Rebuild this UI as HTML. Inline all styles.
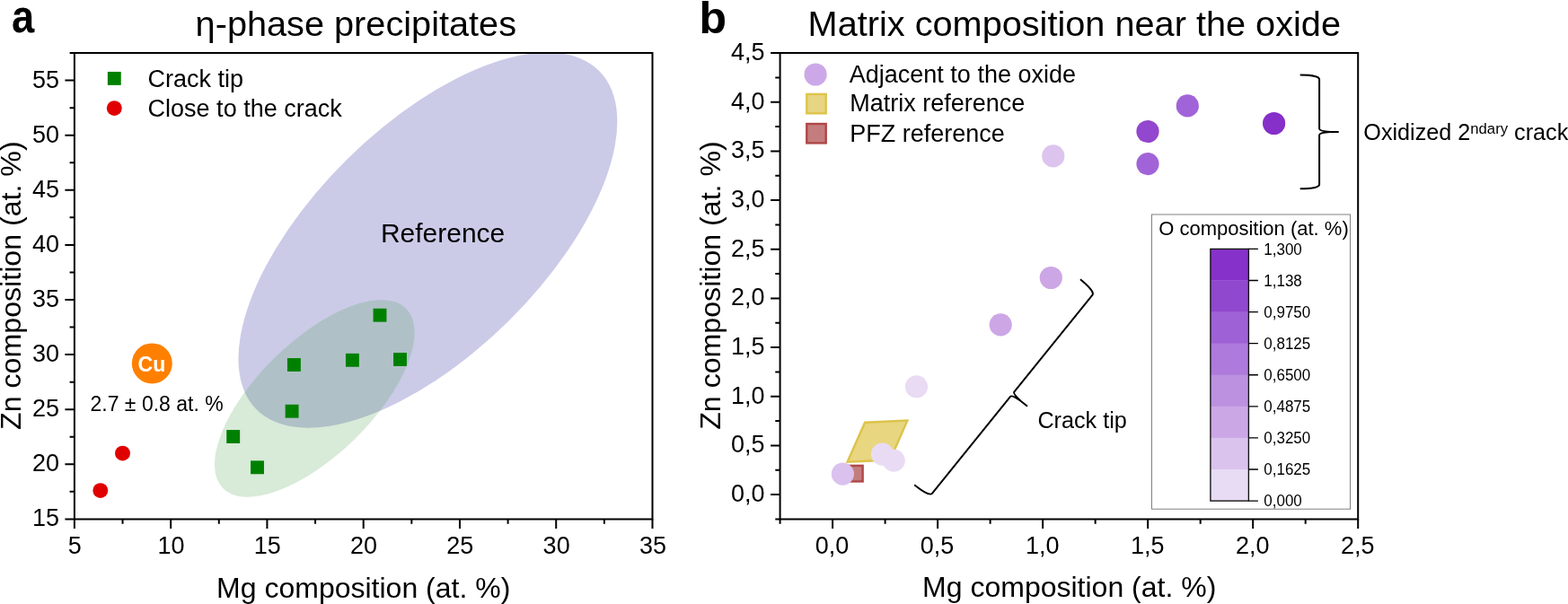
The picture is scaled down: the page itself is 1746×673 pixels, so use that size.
<!DOCTYPE html>
<html><head><meta charset="utf-8"><title>Figure</title>
<style>
html,body{margin:0;padding:0;background:#fff;}
body{width:1746px;height:673px;overflow:hidden;}
svg{display:block;}
text{font-family:"Liberation Sans", Arial, Helvetica, sans-serif;fill:#000;}
</style></head><body>
<svg width="1746" height="673" viewBox="0 0 1746 673">
<rect x="0" y="0" width="1746" height="673" fill="#fff"/>
<ellipse cx="476.4" cy="267.6" rx="268.3" ry="127.4" transform="rotate(-44.6 476.4 267.6)" fill="#cbcbe8"/>
<ellipse cx="350.35" cy="443.95" rx="142.9" ry="63.6" transform="rotate(-44.4 350.35 443.95)" fill="#4d9f4d" fill-opacity="0.22"/>
<rect x="252.25" y="479.05" width="14.9" height="14.9" fill="#008000"/>
<rect x="279.05" y="513.35" width="14.9" height="14.9" fill="#008000"/>
<rect x="317.65" y="450.75" width="14.9" height="14.9" fill="#008000"/>
<rect x="319.95" y="399.05" width="14.9" height="14.9" fill="#008000"/>
<rect x="384.95" y="393.85" width="14.9" height="14.9" fill="#008000"/>
<rect x="415.55" y="343.75" width="14.9" height="14.9" fill="#008000"/>
<rect x="438.05" y="393.05" width="14.9" height="14.9" fill="#008000"/>
<circle cx="136.5" cy="505.1" r="8.45" fill="#e00000"/>
<circle cx="111.8" cy="546.6" r="8.45" fill="#e00000"/>
<circle cx="169.3" cy="404.9" r="22.5" fill="#ff8000"/>
<text x="168.9" y="413.5" font-size="23" font-weight="bold" text-anchor="middle" style="fill:#fff">Cu</text>
<text x="100.5" y="458" font-size="23">2.7 ± 0.8 at. %</text>
<text x="423.9" y="270.2" font-size="30">Reference</text>
<rect x="119.85" y="79.95" width="14.9" height="14.9" fill="#008000"/>
<circle cx="127.3" cy="120.6" r="8.45" fill="#e00000"/>
<text x="164.6" y="96.5" font-size="27">Crack tip</text>
<text x="164.6" y="130" font-size="27">Close to the crack</text>
<path d="M82.9,59.1 H726.5 V578.4 H82.9 Z" fill="none" stroke="#000" stroke-width="2.0"/>
<path d="M82.90,578.4 v10.5 M190.17,578.4 v10.5 M297.43,578.4 v10.5 M404.70,578.4 v10.5 M511.97,578.4 v10.5 M619.23,578.4 v10.5 M726.50,578.4 v10.5 M136.53,578.4 v5.3 M243.80,578.4 v5.3 M351.07,578.4 v5.3 M458.33,578.4 v5.3 M565.60,578.4 v5.3 M672.87,578.4 v5.3 M82.9,578.40 h-10.5 M82.9,517.30 h-10.5 M82.9,456.20 h-10.5 M82.9,395.10 h-10.5 M82.9,334.00 h-10.5 M82.9,272.90 h-10.5 M82.9,211.80 h-10.5 M82.9,150.70 h-10.5 M82.9,89.60 h-10.5 M82.9,547.85 h-5.3 M82.9,486.75 h-5.3 M82.9,425.65 h-5.3 M82.9,364.55 h-5.3 M82.9,303.45 h-5.3 M82.9,242.35 h-5.3 M82.9,181.25 h-5.3 M82.9,120.15 h-5.3 M82.9,59.05 h-5.3" stroke="#000" stroke-width="2.0" fill="none"/>
<text transform="translate(83.30 617) scale(1 1.04)" font-size="27" text-anchor="middle">5</text>
<text transform="translate(190.57 617) scale(1 1.04)" font-size="27" text-anchor="middle">10</text>
<text transform="translate(297.83 617) scale(1 1.04)" font-size="27" text-anchor="middle">15</text>
<text transform="translate(405.10 617) scale(1 1.04)" font-size="27" text-anchor="middle">20</text>
<text transform="translate(512.37 617) scale(1 1.04)" font-size="27" text-anchor="middle">25</text>
<text transform="translate(619.63 617) scale(1 1.04)" font-size="27" text-anchor="middle">30</text>
<text transform="translate(726.90 617) scale(1 1.04)" font-size="27" text-anchor="middle">35</text>
<text transform="translate(65.9 586.40) scale(1 1.04)" font-size="27" text-anchor="end">15</text>
<text transform="translate(65.9 525.30) scale(1 1.04)" font-size="27" text-anchor="end">20</text>
<text transform="translate(65.9 464.20) scale(1 1.04)" font-size="27" text-anchor="end">25</text>
<text transform="translate(65.9 403.10) scale(1 1.04)" font-size="27" text-anchor="end">30</text>
<text transform="translate(65.9 342.00) scale(1 1.04)" font-size="27" text-anchor="end">35</text>
<text transform="translate(65.9 280.90) scale(1 1.04)" font-size="27" text-anchor="end">40</text>
<text transform="translate(65.9 219.80) scale(1 1.04)" font-size="27" text-anchor="end">45</text>
<text transform="translate(65.9 158.70) scale(1 1.04)" font-size="27" text-anchor="end">50</text>
<text transform="translate(65.9 97.60) scale(1 1.04)" font-size="27" text-anchor="end">55</text>
<text x="241.1" y="665.7" font-size="32">Mg composition (at. %)</text>
<text transform="translate(23.3 478.9) rotate(-90)" font-size="32.15">Zn composition (at. %)</text>
<text x="217.6" y="40.1" font-size="39.7">η-phase precipitates</text>
<text transform="translate(13.0 36.3) scale(0.876 1)" font-size="51.8" font-weight="bold">a</text>
<polygon points="963.1,470.7 1010.4,468.6 991.1,512.5 943.6,514.6" fill="#e8d680" stroke="#dcc34a" stroke-width="2.4" stroke-linejoin="miter"/>
<rect x="943.05" y="518.85" width="17.6" height="17.6" fill="#c47d7d" stroke="#b04848" stroke-width="2.4"/>
<circle cx="938.4" cy="528.1" r="12.6" fill="#dac1ee"/>
<circle cx="982.5" cy="506.2" r="12.6" fill="#e9dbf4"/>
<circle cx="995.2" cy="513.2" r="12.6" fill="#e9dbf4"/>
<circle cx="1020.5" cy="430.8" r="12.6" fill="#e9dbf4"/>
<circle cx="1114.2" cy="361.8" r="12.6" fill="#cda6e6"/>
<circle cx="1170.3" cy="309.5" r="12.6" fill="#cda6e6"/>
<circle cx="1172.8" cy="173.9" r="12.6" fill="#dcc4ee"/>
<circle cx="1278.0" cy="146.5" r="12.6" fill="#9346ce"/>
<circle cx="1278.0" cy="182.6" r="12.6" fill="#a164d8"/>
<circle cx="1322.3" cy="117.9" r="12.6" fill="#a164d8"/>
<circle cx="1418.6" cy="137.5" r="12.6" fill="#862fc9"/>
<path d="M-21.4,-63.40 C-9.63,-63.40 0,-61.87 0,-58.50 L0,-3.4 C0,-1.2 5,-0.5 12,0 L21.6,0 M12,0 C5,0.5 0,1.2 0,3.4 L0,58.50 C0,61.87 -9.63,63.40 -21.4,63.40" transform="translate(1469.1 146.9)" fill="none" stroke="#000" stroke-width="2" stroke-linejoin="round" stroke-linecap="butt"/>
<path d="M-21.4,-147.10 C-9.63,-147.10 0,-145.57 0,-142.20 L0,-3.4 C0,-1.2 5,-0.5 12,0 L21.6,0 M12,0 C5,0.5 0,1.2 0,3.4 L0,142.20 C0,145.57 -9.63,147.10 -21.4,147.10" transform="translate(1127.2 439.2) rotate(38.9)" fill="none" stroke="#000" stroke-width="2" stroke-linejoin="round" stroke-linecap="butt"/>
<text x="1155.4" y="476.8" font-size="25.2">Crack tip</text>
<text x="1518.3" y="156.2" font-size="25.2">Oxidized 2<tspan font-size="16.7" dy="-7.1">ndary</tspan><tspan dy="7.1"> crack</tspan></text>
<rect x="1282.5" y="239" width="221" height="328.2" fill="#fff" stroke="#808080" stroke-width="1.0"/>
<rect x="1347.9" y="277.40" width="42.5" height="35.39" fill="#8631c9"/>
<rect x="1347.9" y="312.49" width="42.5" height="35.39" fill="#9048cf"/>
<rect x="1347.9" y="347.57" width="42.5" height="35.39" fill="#9f61d6"/>
<rect x="1347.9" y="382.66" width="42.5" height="35.39" fill="#ae7adc"/>
<rect x="1347.9" y="417.75" width="42.5" height="35.39" fill="#bc92e0"/>
<rect x="1347.9" y="452.84" width="42.5" height="35.39" fill="#cca7e6"/>
<rect x="1347.9" y="487.93" width="42.5" height="35.39" fill="#dac4ee"/>
<rect x="1347.9" y="523.01" width="42.5" height="35.39" fill="#e8dcf4"/>
<rect x="1347.9" y="277.4" width="42.5" height="280.70" fill="none" stroke="#111" stroke-width="1.35"/>
<text transform="translate(1407.3 283.50) scale(1 1.04)" font-size="17">1,300</text>
<text transform="translate(1407.3 318.59) scale(1 1.04)" font-size="17">1,138</text>
<text transform="translate(1407.3 353.68) scale(1 1.04)" font-size="17">0,9750</text>
<text transform="translate(1407.3 388.76) scale(1 1.04)" font-size="17">0,8125</text>
<text transform="translate(1407.3 423.85) scale(1 1.04)" font-size="17">0,6500</text>
<text transform="translate(1407.3 458.94) scale(1 1.04)" font-size="17">0,4875</text>
<text transform="translate(1407.3 494.03) scale(1 1.04)" font-size="17">0,3250</text>
<text transform="translate(1407.3 529.11) scale(1 1.04)" font-size="17">0,1625</text>
<text transform="translate(1407.3 564.20) scale(1 1.04)" font-size="17">0,000</text>
<path d="M1390.4,277.40 h10.5 M1390.4,312.49 h10.5 M1390.4,347.57 h10.5 M1390.4,382.66 h10.5 M1390.4,417.75 h10.5 M1390.4,452.84 h10.5 M1390.4,487.93 h10.5 M1390.4,523.01 h10.5 M1390.4,558.10 h10.5" stroke="#000" stroke-width="1.35"/>
<text x="1290.2" y="262" font-size="22">O composition (at. %)</text>
<circle cx="908.1" cy="83.0" r="12.6" fill="#cda8e8"/>
<rect x="898.3" y="104.9" width="21.4" height="21.4" fill="#e6d582" stroke="#dec44b" stroke-width="2.4"/>
<rect x="898.3" y="138.0" width="21.4" height="21.4" fill="#c47d7d" stroke="#af4646" stroke-width="2.4"/>
<text x="945.8" y="92.3" font-size="27">Adjacent to the oxide</text>
<text x="946.2" y="124.4" font-size="27">Matrix reference</text>
<text x="946.2" y="157.8" font-size="27">PFZ reference</text>
<path d="M868.59,59.1 H1512.2 V578.4 H868.59 Z" fill="none" stroke="#000" stroke-width="2.0"/>
<path d="M927.10,578.4 v10.5 M1044.12,578.4 v10.5 M1161.14,578.4 v10.5 M1278.16,578.4 v10.5 M1395.18,578.4 v10.5 M1512.20,578.4 v10.5 M868.59,578.4 v5.3 M985.61,578.4 v5.3 M1102.63,578.4 v5.3 M1219.65,578.4 v5.3 M1336.67,578.4 v5.3 M1453.69,578.4 v5.3 M868.59,551.10 h-10.5 M868.59,496.43 h-10.5 M868.59,441.77 h-10.5 M868.59,387.10 h-10.5 M868.59,332.43 h-10.5 M868.59,277.77 h-10.5 M868.59,223.10 h-10.5 M868.59,168.43 h-10.5 M868.59,113.77 h-10.5 M868.59,59.10 h-10.5 M868.59,578.43 h-5.3 M868.59,523.77 h-5.3 M868.59,469.10 h-5.3 M868.59,414.43 h-5.3 M868.59,359.77 h-5.3 M868.59,305.10 h-5.3 M868.59,250.43 h-5.3 M868.59,195.77 h-5.3 M868.59,141.10 h-5.3 M868.59,86.43 h-5.3" stroke="#000" stroke-width="2.0" fill="none"/>
<text transform="translate(926.60 616.8) scale(1 1.04)" font-size="27" text-anchor="middle">0,0</text>
<text transform="translate(1043.62 616.8) scale(1 1.04)" font-size="27" text-anchor="middle">0,5</text>
<text transform="translate(1160.64 616.8) scale(1 1.04)" font-size="27" text-anchor="middle">1,0</text>
<text transform="translate(1277.66 616.8) scale(1 1.04)" font-size="27" text-anchor="middle">1,5</text>
<text transform="translate(1394.68 616.8) scale(1 1.04)" font-size="27" text-anchor="middle">2,0</text>
<text transform="translate(1511.70 616.8) scale(1 1.04)" font-size="27" text-anchor="middle">2,5</text>
<text transform="translate(851.6 559.10) scale(1 1.04)" font-size="27" text-anchor="end">0,0</text>
<text transform="translate(851.6 504.43) scale(1 1.04)" font-size="27" text-anchor="end">0,5</text>
<text transform="translate(851.6 449.77) scale(1 1.04)" font-size="27" text-anchor="end">1,0</text>
<text transform="translate(851.6 395.10) scale(1 1.04)" font-size="27" text-anchor="end">1,5</text>
<text transform="translate(851.6 340.43) scale(1 1.04)" font-size="27" text-anchor="end">2,0</text>
<text transform="translate(851.6 285.77) scale(1 1.04)" font-size="27" text-anchor="end">2,5</text>
<text transform="translate(851.6 231.10) scale(1 1.04)" font-size="27" text-anchor="end">3,0</text>
<text transform="translate(851.6 176.43) scale(1 1.04)" font-size="27" text-anchor="end">3,5</text>
<text transform="translate(851.6 121.77) scale(1 1.04)" font-size="27" text-anchor="end">4,0</text>
<text transform="translate(851.6 67.10) scale(1 1.04)" font-size="27" text-anchor="end">4,5</text>
<text x="1027.1" y="665.4" font-size="32">Mg composition (at. %)</text>
<text transform="translate(801.6 478.8) rotate(-90)" font-size="32.15">Zn composition (at. %)</text>
<text x="899.6" y="39.6" font-size="39.7">Matrix composition near the oxide</text>
<text x="778.5" y="36.8" font-size="50" font-weight="bold">b</text>
</svg></body></html>
